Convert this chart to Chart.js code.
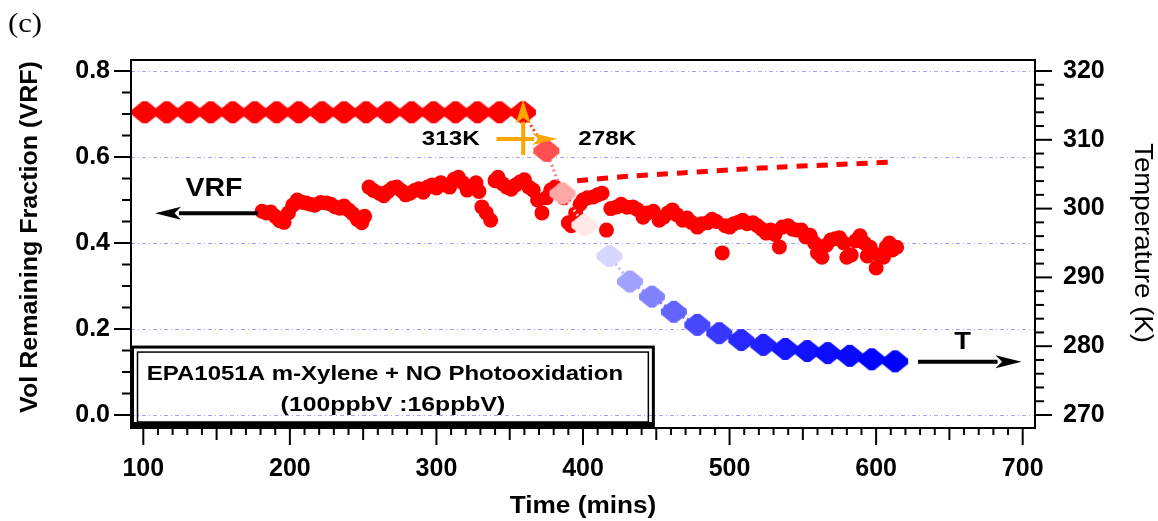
<!DOCTYPE html>
<html><head><meta charset="utf-8">
<script src="https://cdn.jsdelivr.net/npm/chart.js@4/dist/chart.umd.min.js"></script>
<style>html,body{margin:0;padding:0;background:#fff;}canvas{display:block;}</style>
</head><body>
<canvas id="c" width="1158" height="521"></canvas>
<script>
// ---------- data ----------
const tempTime = [101,116,131,146,161,176,191,206,222,237,252,267,283,298,313,328,343,359,
                  375,386,401,418,432,447,462,478,493,508,523,538,553,567,582,597,613];
const tempK    = [314,314,314,314,314,314,314,314,314,314,314,314,314,314,314,314,314,314,
                  308.4,302.2,297.6,293.1,289.4,287.2,285.0,283.1,281.9,280.9,280.2,279.6,279.3,279.0,278.6,278.1,277.8];

const vrfTime = [181,184,187,190,193,196,199,202,205,208,
                 211,214,217,221,225,228,231,234,237,240,
                 243,246,249,251,254,257,261,264,267,270,
                 273,276,279,282,285,288,291,294,297,300,
                 303,306,309,312,315,318,321,324,327,329,
                 331,334,337,340,342,345,348,351,354,357,
                 360,363,366,369,372,375,378,381,384,387,
                 390,392,395,398,400,403,407,410,413,416,
                 419,423,426,430,434,437,441,444,448,452,
                 455,458,461,464,468,471,474,478,481,485,
                 488,491,495,497,500,503,506,509,512,516,
                 519,522,525,528,531,534,536,540,543,546,
                 549,552,555,558,560,563,566,569,572,575,
                 578,580,583,586,589,592,594,596,600,602,
                 605,607,609,611,614];
const vrfValue = [0.474,0.470,0.472,0.462,0.452,0.448,0.470,0.488,0.500,0.495,
                  0.493,0.490,0.488,0.494,0.493,0.490,0.484,0.481,0.486,0.477,
                  0.468,0.455,0.447,0.462,0.530,0.522,0.516,0.510,0.520,0.528,
                  0.530,0.522,0.512,0.516,0.522,0.526,0.518,0.530,0.535,0.528,
                  0.540,0.535,0.530,0.548,0.553,0.540,0.523,0.530,0.540,0.520,
                  0.484,0.470,0.453,0.545,0.553,0.538,0.530,0.525,0.535,0.542,
                  0.547,0.530,0.523,0.500,0.470,0.505,0.523,0.530,0.520,0.505,
                  0.447,0.440,0.470,0.490,0.500,0.505,0.507,0.512,0.516,0.430,
                  0.480,0.484,0.490,0.483,0.484,0.478,0.460,0.470,0.474,0.453,
                  0.460,0.470,0.477,0.466,0.453,0.458,0.448,0.437,0.445,0.447,
                  0.455,0.450,0.377,0.440,0.437,0.445,0.448,0.453,0.445,0.447,
                  0.440,0.432,0.423,0.430,0.420,0.391,0.437,0.440,0.432,0.430,
                  0.430,0.414,0.418,0.400,0.377,0.367,0.395,0.407,0.410,0.412,
                  0.400,0.367,0.372,0.405,0.417,0.400,0.370,0.390,0.342,0.372,
                  0.367,0.391,0.400,0.384,0.390];

const trendTime  = [396, 430, 467, 500, 536, 570, 610];
const trendValue = [0.545, 0.555, 0.563, 0.570, 0.577, 0.582, 0.588];

const xTicks = [100,200,300,400,500,600,700];
const xTickLabels = ['100','200','300','400','500','600','700'];
const yTicks = [0,0.2,0.4,0.6,0.8];
const yTickLabels = ['0.0','0.2','0.4','0.6','0.8'];
const tTicks = [270,280,290,300,310,320];
const tTickLabels = ['270','280','290','300','310','320'];

// ---------- helpers ----------
function tempColor(k){
  const hi=314, lo=278, mid=296;
  if(k>=mid){const f=Math.min(1,(k-mid)/(hi-mid));const c=Math.round(255*(1-f));return `rgb(255,${c},${c})`;}
  const f=Math.min(1,(mid-k)/(mid-lo));const c=Math.round(255*(1-f));return `rgb(${c},${c},255)`;
}
// blunt-tipped diamond marker
function diamondMarker(color){
  const cv=document.createElement('canvas');cv.width=28;cv.height=26;
  const g=cv.getContext('2d');g.translate(14,13);g.fillStyle=color;
  const ax=13,ay=11,b=2.5;
  g.beginPath();
  g.moveTo(-ax,-b);g.lineTo(-b,-ay);g.lineTo(b,-ay);g.lineTo(ax,-b);
  g.lineTo(ax,b);g.lineTo(b,ay);g.lineTo(-b,ay);g.lineTo(-ax,b);g.closePath();g.fill();
  return cv;
}
function sText(ctx,txt,x,y,font,sx,rot){
  ctx.save();ctx.translate(x,y);if(rot)ctx.rotate(rot);ctx.scale(sx,1);
  ctx.font=font;ctx.textAlign='center';ctx.textBaseline='middle';ctx.fillStyle='#000';
  ctx.fillText(txt,0,0);ctx.restore();
}
function arrow(ctx,x1,y1,x2,y2,color,lw,hl,hw){
  const a=Math.atan2(y2-y1,x2-x1),bx=x2-hl*Math.cos(a),by=y2-hl*Math.sin(a);
  ctx.save();ctx.strokeStyle=color;ctx.lineWidth=lw;ctx.lineCap='butt';
  ctx.beginPath();ctx.moveTo(x1,y1);ctx.lineTo(bx+2*Math.cos(a),by+2*Math.sin(a));ctx.stroke();
  ctx.fillStyle=color;ctx.beginPath();ctx.moveTo(x2,y2);
  ctx.lineTo(bx-hw*Math.sin(a),by+hw*Math.cos(a));
  ctx.lineTo(bx+0.25*hl*Math.cos(a),by+0.25*hl*Math.sin(a));
  ctx.lineTo(bx+hw*Math.sin(a),by-hw*Math.cos(a));
  ctx.closePath();ctx.fill();ctx.restore();
}
const FB = "'Liberation Sans', Arial, sans-serif";

// ---------- plugins ----------
const axisDeco = {
  id:'axisDeco',
  beforeDatasetsDraw(chart){
    const {ctx, chartArea:a, scales:{y}} = chart;
    ctx.save();ctx.strokeStyle='#a0a0ff';ctx.lineWidth=1;ctx.setLineDash([4,3,1,3]);
    yTicks.forEach(v=>{const py=Math.round(y.getPixelForValue(v))+0.5;
      ctx.beginPath();ctx.moveTo(a.left,py);ctx.lineTo(a.right,py);ctx.stroke();});
    ctx.restore();
  },
  afterDatasetsDraw(chart){
    const {ctx, chartArea:a, scales:{x,y,yT}} = chart;
    ctx.save();
    ctx.strokeStyle='#000';ctx.lineWidth=2;
    const ln=(x1,y1,x2,y2)=>{ctx.beginPath();ctx.moveTo(x1,y1);ctx.lineTo(x2,y2);ctx.stroke();};
    for(let v=100;v<=700;v+=10){
      const px=x.getPixelForValue(v);
      const L = v%100===0?17:(v%50===0?12:7);
      ln(px,a.bottom,px,a.bottom+L);
    }
    for(let i=0;i<=16;i++){
      const py=y.getPixelForValue(i*0.05);
      ln(a.left,py,a.left-(i%4===0?17:9),py);
    }
    for(let k=270;k<=320;k+=2){
      const py=yT.getPixelForValue(k);
      ln(a.right,py,a.right+((k-270)%10===0?17:9),py);
    }
    ctx.strokeRect(a.left,a.top,a.right-a.left,a.bottom-a.top);
    ctx.restore();
  },
  afterDraw(chart){
    const {ctx, chartArea:a, scales:{x,y}} = chart;
    const X=v=>x.getPixelForValue(v), Y=v=>y.getPixelForValue(v);
    // panel label
    ctx.save();ctx.translate(25,25);ctx.scale(1.1,1);ctx.font="28px 'Liberation Serif', 'Times New Roman', serif";
    ctx.textAlign='center';ctx.textBaseline='middle';ctx.fillStyle='#000';ctx.fillText('(c)',0,0);ctx.restore();
    // axis titles
    sText(ctx,'Time (mins)',583,507,`bold 23px ${FB}`,1.14,0);
    sText(ctx,'Vol Remaining Fraction (VRF)',31,(a.top+a.bottom)/2-7,`bold 23px ${FB}`,1.09,-Math.PI/2);
    sText(ctx,'Temperature (K)',1142,243,`25.5px ${FB}`,1.085,Math.PI/2);
    // VRF / T labels with arrows
    sText(ctx,'VRF',X(148.2),Y(0.5256),`bold 25px ${FB}`,1.14,0);
    arrow(ctx,X(178.2),Y(0.469),X(108),Y(0.469),'#000',4,26,6.5);
    sText(ctx,'T',X(659),Y(0.170),`bold 24px ${FB}`,1.14,0);
    arrow(ctx,X(628.6),Y(0.124),X(699.2),Y(0.124),'#000',4,26,6.5);
    // 313K / 278K
    sText(ctx,'313K',X(309.8),Y(0.641),`bold 21px ${FB}`,1.155,0);
    sText(ctx,'278K',X(416.6),Y(0.641),`bold 21px ${FB}`,1.155,0);
    // orange cross arrows
    arrow(ctx,X(359.2),Y(0.605),X(359.2),Y(0.733),'#FFA500',4,24,7.5);
    arrow(ctx,X(341),Y(0.642),X(382.4),Y(0.642),'#FFA500',4,25,6);
    // info box
    const bl=a.left+1.5, br=X(448), bt=Y(0.158);
    ctx.save();ctx.strokeStyle='#000';
    ctx.lineWidth=3;ctx.strokeRect(bl,bt,br-bl,a.bottom-bt-1.5);
    ctx.lineWidth=1.5;ctx.strokeRect(bl+5,bt+5,br-bl-10,a.bottom-bt-11);
    ctx.fillStyle='#000';ctx.fillRect(bl-1,a.bottom-6,br-bl+2,7);
    ctx.restore();
    sText(ctx,'EPA1051A m-Xylene + NO Photooxidation',(bl+br)/2-8,374.5,`bold 20px ${FB}`,1.2,0);
    sText(ctx,'(100ppbV :16ppbV)',(bl+br)/2,405,`bold 20px ${FB}`,1.24,0);
  }
};

// ---------- chart ----------
Chart.defaults.font.family = FB;
new Chart(document.getElementById('c'), {
  type:'scatter',
  data:{datasets:[
    { label:'T', yAxisID:'yT', order:0,
      data: tempTime.map((t,i)=>({x:t,y:tempK[i]})),
      showLine:true, borderWidth:3, borderDash:[2,3],
      segment:{borderColor: c=>tempColor((c.p0.parsed.y+c.p1.parsed.y)/2)},
      pointStyle: tempK.map(k=>diamondMarker(tempColor(k))), pointRadius:12,
      pointBackgroundColor: tempK.map(tempColor), pointBorderWidth:0 },
    { label:'VRF', yAxisID:'y', order:1,
      data: vrfTime.map((t,i)=>({x:t,y:vrfValue[i]})),
      showLine:false, pointStyle:'circle', pointRadius:7.5,
      pointBackgroundColor:'#ff0000', pointBorderColor:'#ff0000', pointBorderWidth:0 },
    { label:'trend', yAxisID:'y', order:2,
      data: trendTime.map((t,i)=>({x:t,y:trendValue[i]})),
      showLine:true, borderColor:'#ff0000', borderWidth:5, borderDash:[11,9], tension:0.3,
      pointRadius:0 }
  ]},
  options:{
    responsive:false, devicePixelRatio:1, animation:false,
    layout:{padding:{top:60,left:0,right:0,bottom:0}},
    plugins:{legend:{display:false},tooltip:{enabled:false}},
    scales:{
      x:{ type:'linear', position:'bottom', min:91.6, max:708.4,
          afterBuildTicks:s=>{s.ticks=xTicks.map(v=>({value:v}));},
          afterFit:s=>{s.height=93;},
          ticks:{callback:(v,i)=>xTickLabels[i], font:{size:25,weight:'bold'}, color:'#000', padding:9, maxRotation:0, autoSkip:false},
          grid:{display:true, drawOnChartArea:false, tickLength:17, tickColor:'rgba(0,0,0,0)'},
          border:{display:false} },
      y:{ type:'linear', position:'left', min:-0.0302, max:0.8256,
          afterBuildTicks:s=>{s.ticks=yTicks.map(v=>({value:v}));},
          afterFit:s=>{s.width=131;},
          ticks:{callback:(v,i)=>yTickLabels[i], font:{size:25,weight:'bold'}, color:'#000', padding:4},
          grid:{display:true, drawOnChartArea:false, tickLength:17, tickColor:'rgba(0,0,0,0)'},
          border:{display:false} },
      yT:{ type:'linear', position:'right', min:268.11, max:321.6,
          afterBuildTicks:s=>{s.ticks=tTicks.map(v=>({value:v}));},
          afterFit:s=>{s.width=123;},
          ticks:{callback:(v,i)=>tTickLabels[i], font:{size:25,weight:'bold'}, color:'#000', padding:11},
          grid:{display:true, drawOnChartArea:false, tickLength:17, tickColor:'rgba(0,0,0,0)'},
          border:{display:false} }
    }
  },
  plugins:[axisDeco]
});
</script>
</body></html>
